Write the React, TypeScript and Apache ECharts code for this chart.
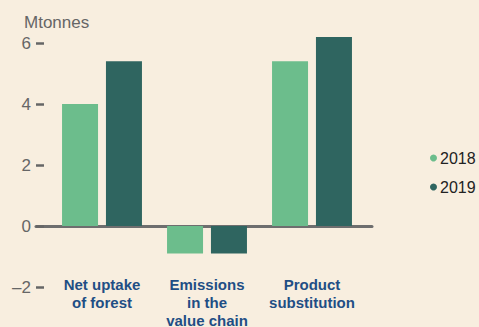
import React, { useEffect, useRef } from "react";
import * as echarts from "echarts";

const categories = ["Net uptake\nof forest", "Emissions\nin the\nvalue chain", "Product\nsubstitution"];
const values2018 = [4.0, -0.9, 5.4];
const values2019 = [5.4, -0.9, 6.2];
const seriesNames = ["2018", "2019"];
const yTicks = [-2, 0, 2, 4, 6];
const unitLabel = "Mtonnes";

const FONT = "'Liberation Sans', Arial, Helvetica, sans-serif";

export default function App() {
  const ref = useRef<HTMLDivElement>(null);
  useEffect(() => {
    if (!ref.current) return;
    const chart = echarts.init(ref.current, undefined, { renderer: "svg" });
    const yMin = yTicks[0];
    const yMax = yTicks[yTicks.length - 1];
    chart.setOption({
      animation: false,
      backgroundColor: "#f8eedf",
      title: {
        text: unitLabel,
        left: 19,
        top: 9,
        textStyle: { fontFamily: FONT, fontSize: 17, fontWeight: "normal", color: "#666666" },
      },
      legend: {
        orient: "vertical",
        left: 425,
        top: 145,
        itemGap: 13,
        itemWidth: 7,
        itemHeight: 7,
        icon: "circle",
        data: seriesNames,
        textStyle: { fontFamily: FONT, fontSize: 16, color: "#222222", padding: [0, 0, 0, -2] },
      },
      grid: [
        { left: 49.5, width: 315, top: 43, height: 244, outerBoundsMode: "none", containLabel: false },
        { left: 36, right: 107, top: 43, height: 244, outerBoundsMode: "none", containLabel: false },
      ],
      xAxis: [
        {
          type: "category",
          gridIndex: 0,
          data: categories,
          axisLine: { show: false, onZero: false },
          axisTick: { show: false },
          axisLabel: {
            margin: -12,
            fontFamily: FONT,
            fontSize: 15,
            fontWeight: "bold",
            color: "#1f4e85",
            lineHeight: 18,
            align: "center",
            verticalAlign: "top",
            interval: 0,
          },
        },
        {
          type: "value",
          gridIndex: 1,
          min: 0,
          max: 1,
          axisLine: { show: true, onZero: true, lineStyle: { color: "#6e6e6e", width: 3 } },
          axisTick: { show: false },
          axisLabel: { show: false },
          splitLine: { show: false },
        },
      ],
      yAxis: [
        {
          type: "value",
          gridIndex: 0,
          min: yMin,
          max: yMax,
          interval: 2,
          show: false,
        },
        {
          type: "value",
          gridIndex: 1,
          min: yMin,
          max: yMax,
          interval: 2,
          axisLine: { show: false },
          axisTick: { show: true, inside: true, length: 8, lineStyle: { color: "#666666", width: 2.5 } },
          splitLine: { show: false },
          axisLabel: {
            margin: 5,
            fontFamily: FONT,
            fontSize: 17,
            color: "#666666",
            formatter: (v: number) => (v < 0 ? "\u2013" + Math.abs(v) : String(v)),
          },
        },
      ],
      series: [
        {
          name: seriesNames[0],
          type: "bar",
          xAxisIndex: 0,
          yAxisIndex: 0,
          data: values2018,
          barWidth: 36,
          barGap: "22%",
          clip: false,
          itemStyle: { color: "#6cbd8c" },
        },
        {
          name: seriesNames[1],
          type: "bar",
          xAxisIndex: 0,
          yAxisIndex: 0,
          data: values2019,
          barWidth: 36,
          barGap: "22%",
          clip: false,
          itemStyle: { color: "#2f6560" },
        },
      ],
    });
    return () => chart.dispose();
  }, []);
  return <div ref={ref} style={{ width: 479, height: 327, position: "absolute", left: 0, top: 0 }} />;
}
